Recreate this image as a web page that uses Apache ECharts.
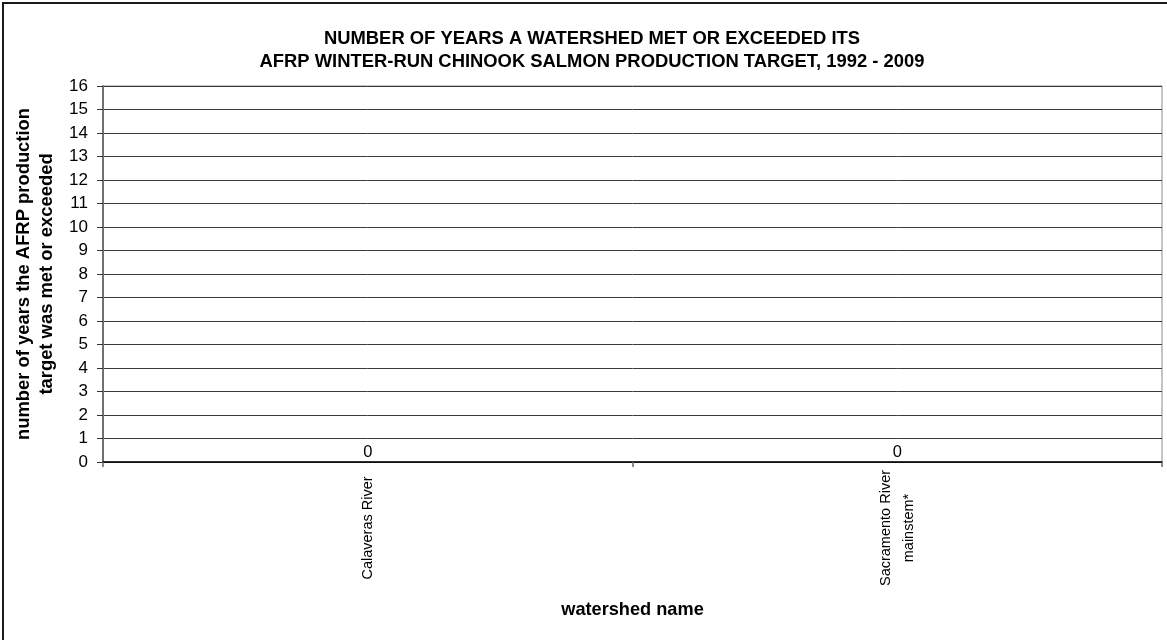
<!DOCTYPE html>
<html>
<head>
<meta charset="utf-8">
<script src="https://cdn.jsdelivr.net/npm/echarts@6/dist/echarts.min.js"></script>
<style>
  html, body { margin: 0; padding: 0; background: #fff; }
  #chart { width: 1167px; height: 640px; }
</style>
</head>
<body>
<div id="chart"></div>
<script>
// Watersheds and the number of years each met its production target
const watersheds = ['Calaveras River', 'Sacramento River\nmainstem*'];
const yearsMet = [0, 0];
const yMin = 0;
const yMax = 16;
const yStep = 1;

const titleText = 'NUMBER OF YEARS A WATERSHED MET OR EXCEEDED ITS\nAFRP WINTER-RUN CHINOOK SALMON PRODUCTION TARGET, 1992 - 2009';
const yName = 'number of years the AFRP production\ntarget was met or exceeded';
const xName = 'watershed name';

const FONT = "'Liberation Sans', Arial, sans-serif";

const chart = echarts.init(document.getElementById('chart'), null, { renderer: 'canvas' });

chart.setOption({
  backgroundColor: '#ffffff',
  animation: false,
  textStyle: { fontFamily: FONT, color: '#000' },
  // outer chart frame
  graphic: [{
    type: 'rect',
    shape: { x: 3, y: 3, width: 1200, height: 700 },
    style: { fill: 'none', stroke: '#1a1a1a', lineWidth: 2 },
    silent: true
  }],
  title: {
    text: titleText,
    left: 592,
    top: 27,
    padding: 0,
    textAlign: 'center',
    textStyle: {
      fontFamily: FONT,
      fontSize: 18.4,
      fontWeight: 'bold',
      color: '#000',
      lineHeight: 23
    }
  },
  grid: {
    left: 103,
    right: 5,
    top: 86,
    bottom: 178,
    show: true,
    borderColor: '#8a8a8a',
    borderWidth: 1,
    containLabel: false
  },
  xAxis: {
    type: 'category',
    data: watersheds,
    name: xName,
    nameLocation: 'middle',
    nameGap: 139,
    nameTextStyle: { fontFamily: FONT, fontSize: 18.2, fontWeight: 'bold', color: '#000' },
    axisLine: { show: true, lineStyle: { color: '#000', width: 1.5 } },
    axisTick: { show: true, length: 5, alignWithLabel: false, lineStyle: { color: '#666', width: 1.5 } },
    axisLabel: {
      rotate: 90,
      align: 'center',
      margin: 66,
      fontFamily: FONT,
      fontSize: 14.5,
      color: '#000',
      lineHeight: 23,
      interval: 0
    },
    splitLine: { show: false }
  },
  yAxis: {
    type: 'value',
    min: yMin,
    max: yMax,
    interval: yStep,
    name: yName,
    nameLocation: 'middle',
    nameGap: 44,
    nameRotate: 90,
    nameTextStyle: { fontFamily: FONT, fontSize: 18.4, fontWeight: 'bold', color: '#000', lineHeight: 23 },
    axisLine: { show: true, lineStyle: { color: '#707070', width: 2 } },
    axisTick: { show: true, inside: false, length: 6, lineStyle: { color: '#333', width: 1 } },
    axisLabel: {
      margin: 15,
      fontFamily: FONT,
      fontSize: 17,
      color: '#000'
    },
    splitLine: { show: true, lineStyle: { color: '#3a3a3a', width: 1 } }
  },
  series: [{
    type: 'bar',
    data: yearsMet,
    barWidth: '50%',
    itemStyle: { color: '#333399' },
    label: {
      show: true,
      position: 'top',
      distance: 1,
      fontFamily: FONT,
      fontSize: 16.5,
      color: '#000',
      formatter: '{c}'
    }
  }]
});
</script>
</body>
</html>
